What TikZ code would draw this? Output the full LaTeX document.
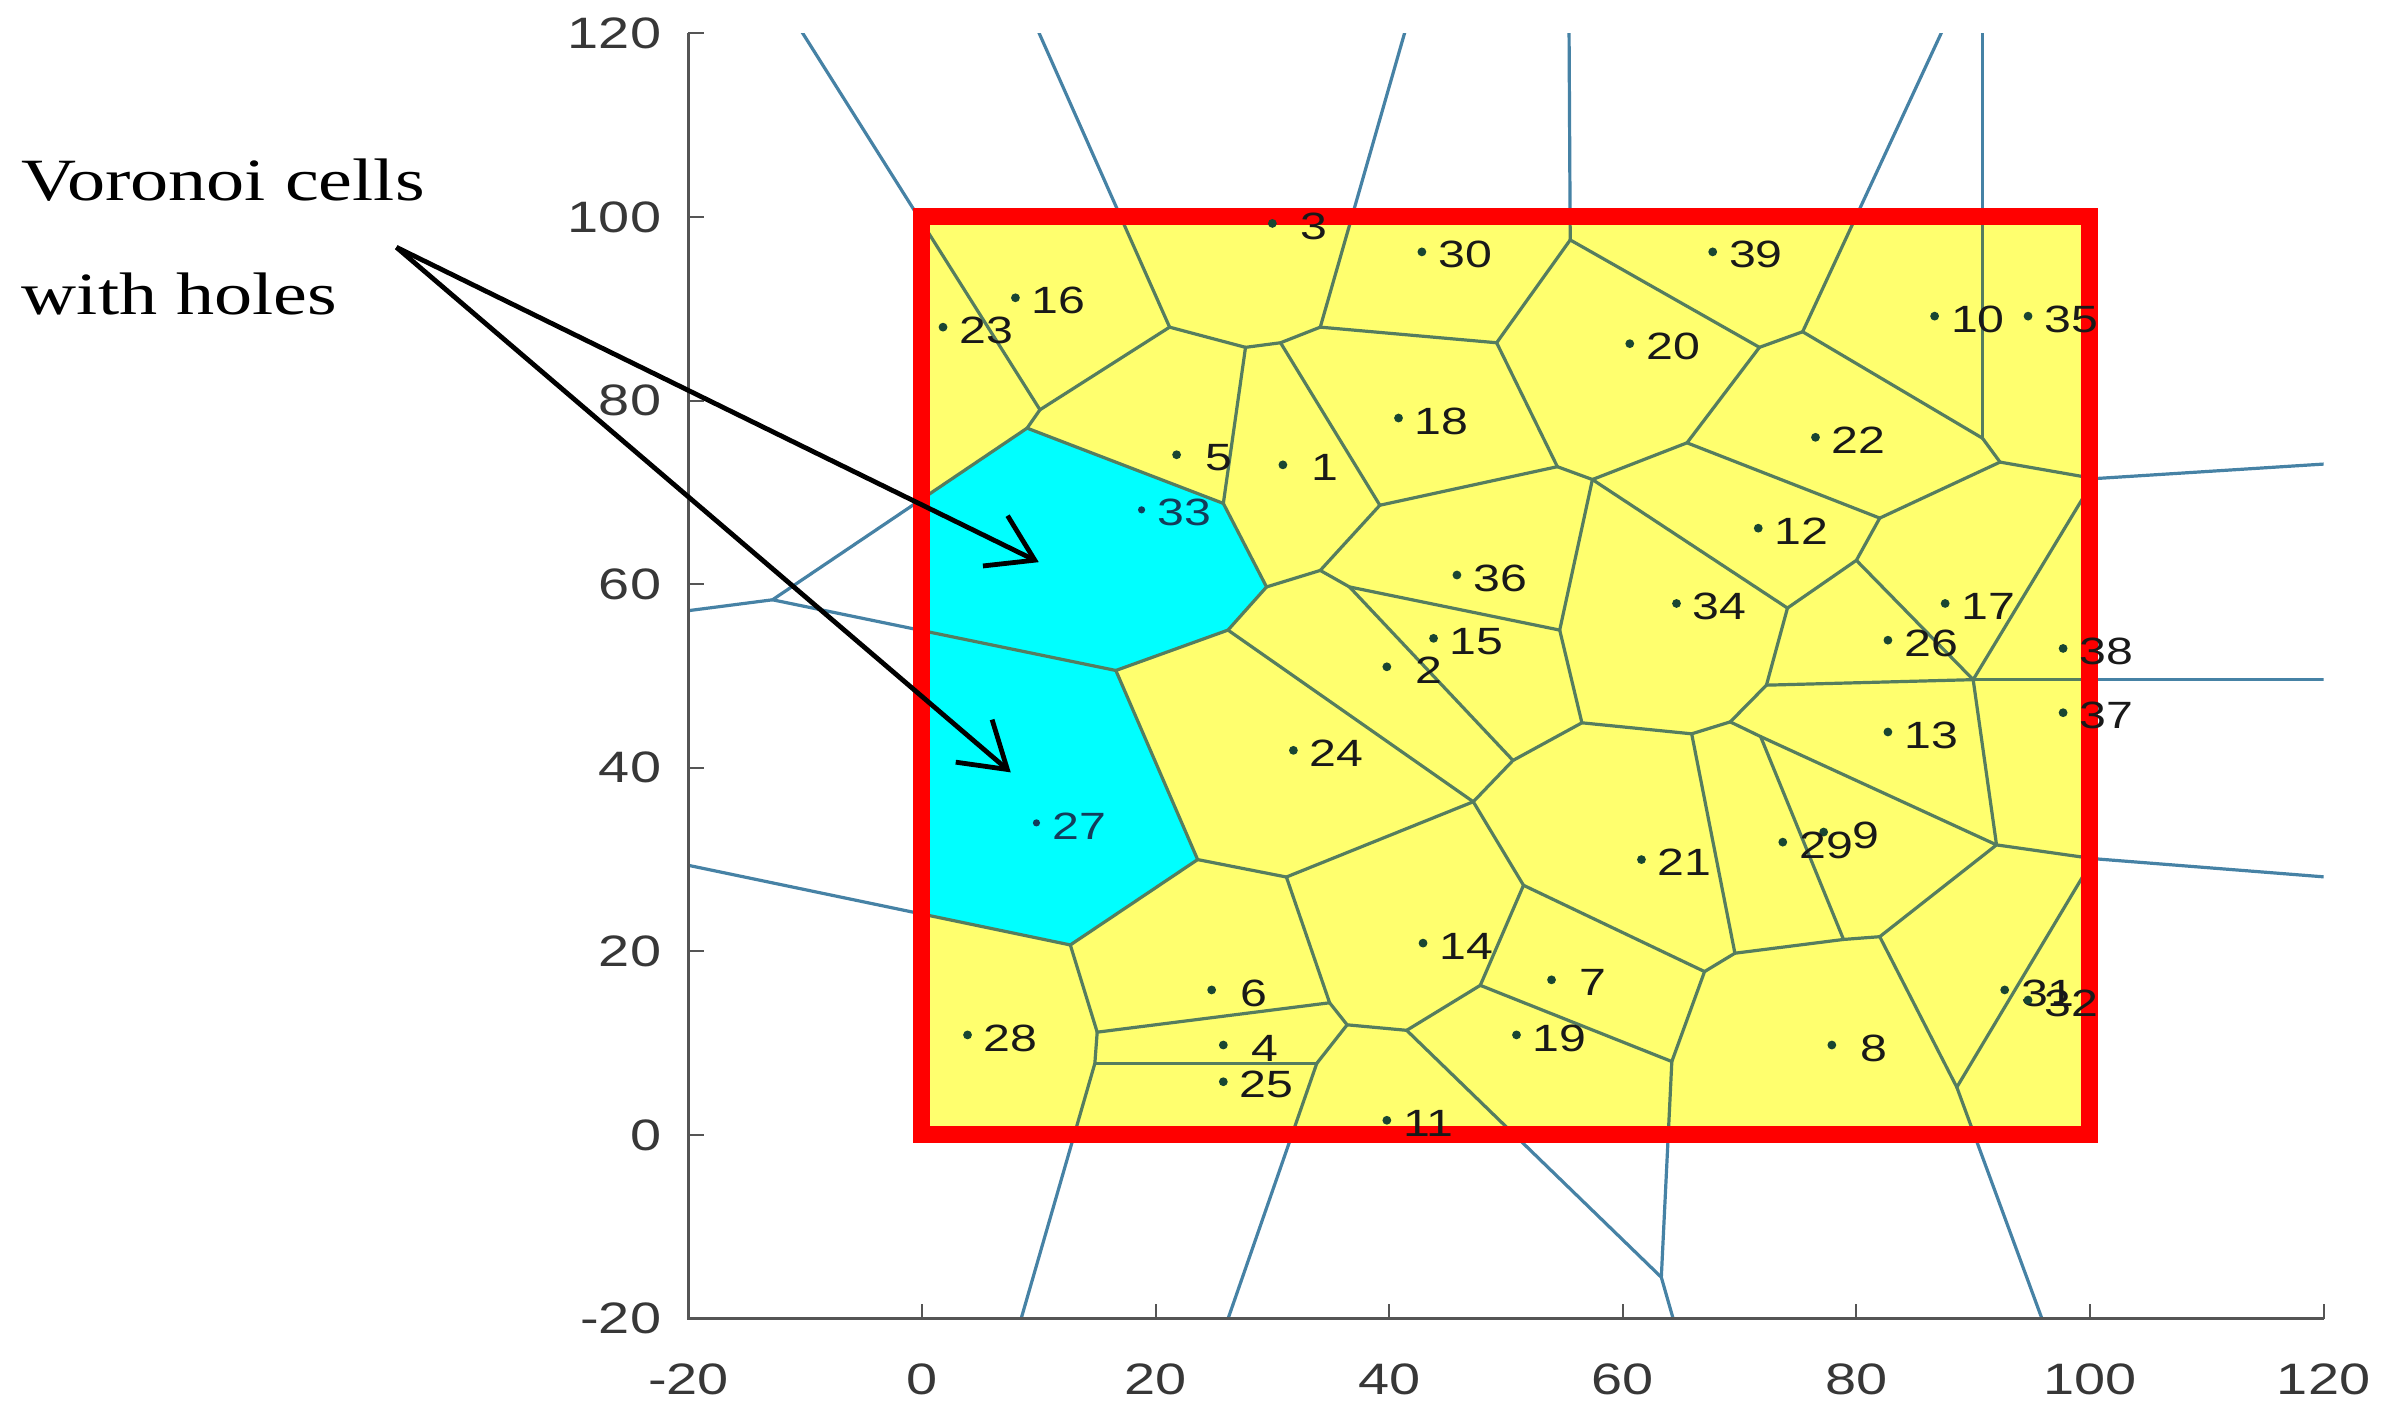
\documentclass[tikz,border=0pt]{standalone}
\usepackage{fontspec}
\setmainfont{Liberation Serif}
\setsansfont{Liberation Sans}
\usepackage{graphicx}
\usetikzlibrary{arrows.meta}
\definecolor{cellyellow}{RGB}{255,255,110}
\definecolor{cellcyan}{RGB}{0,255,255}
\definecolor{edgeout}{RGB}{70,130,165}
\definecolor{edgein}{RGB}{85,125,95}
\definecolor{boxred}{RGB}{255,0,0}
\definecolor{axisgray}{RGB}{85,85,85}
\definecolor{ticktext}{RGB}{55,55,55}
\definecolor{sitedot}{RGB}{25,70,50}
\definecolor{cyanlabel}{RGB}{20,60,90}
\newcommand{\hstretch}[1]{\scalebox{1.27}[1]{#1}}
\def\edgelist{Va/Tva, Vb/Tvb, Vi/Tvi, Vm/Tvm, Vii/Tvii, Vjj/Tvjj,
Vmm/Rmm, Vqq/Rqq, Vuu/Ruu, Vvv/Bvv, Vout2/Bout2, Vdd/Bdd, Vff/Bff,
Vhh/Lhh, Vout1/Lout1, Vout1/Vc, Vout1/Vd, Vz/Vout2, Vaa/Vout2,
Va/Vb, Va/Vc, Vb/Vh, Vh/Ve, Vh/Vh2, Vh2/Vi, Vh2/Vk, Vi/Vj, Vj/Vm, Vj/Vl,
Vk/Vl, Vk/Vq, Vq/Vf, Vq/Vr, Vr/Vp, Vr/Vs, Vl/Vn, Vn/Vp, Vn/Vo, Vn/Vpp,
Vp/Vt, Vt/Vs, Vt/Vu, Vs/Vv, Vg/Vv, Vv/Vw, Vv/Vx, Vx/Vy, Vx/Vab, Vy/Vz,
Vy/Vaa, Vaa/Vbb, Vbb/Vcc, Vcc/Vw, Vcc/Vee, Vbb/Vdd, Vdd/Vff, Vff/Vee,
Vee/Vhh, Vw/Vgg, Vc/Ve, Ve/Vf, Vf/Vg, Vg/Vd, Vd/Vgg, Vgg/Vhh,
Vm/Vkk, Vkk/Vii, Vkk/Vo, Vo/Vnn, Vii/Vjj, Vjj/Vll, Vll/Vmm, Vll/Vnn,
Vnn/Voo, Voo/Vpp, Voo/Vqq, Vmm/Vqq, Vpp/Vrr, Vrr/Vqq, Vrr/Vss, Vss/Vu,
Vss/Vyy, Vyy/Vtt, Vqq/Vtt, Vtt/Vuu, Vtt/Vww, Vuu/Vvv, Vww/Vvv, Vyy/Vzz,
Vxx/Vzz, Vzz/Vww, Vu/Vxx, Vxx/Vab, Vab/Vz}
\begin{document}
\begin{tikzpicture}[x=5.84pt,y=4.59pt,
  vedge/.style={line width=1.6pt, line cap=round, line join=round},
  dotstyle/.style={sitedot},
  sitelab/.style={anchor=west, inner sep=0pt, yshift=-1.5pt,
    font=\sffamily\fontsize{19}{22}\selectfont, text=black!90},
  sitelabone/.style={sitelab, xshift=14pt},
  sitelabtwo/.style={sitelab, xshift=8pt},
  ticklab/.style={inner sep=0pt, font=\sffamily\fontsize{22}{26}\selectfont, text=ticktext},
  calltext/.style={anchor=base west, inner sep=0pt, font=\fontsize{30}{36}\selectfont, text=black},
  callarrow/.style={line width=2.4pt, black, -{Straight Barb[length=22pt,width=28pt,line width=2.4pt]}}
]
\useasboundingbox (-78.94,-30.61) rectangle (125.09,123.64);
\fill[white] (-78.94,-30.61) rectangle (125.09,123.64);

% Voronoi vertices
\coordinate (Va) at (10.1,79.0);
\coordinate (Vb) at (21.2,88.0);
\coordinate (Vc) at (9.0,77.0);
\coordinate (Vd) at (16.6,50.6);
\coordinate (Ve) at (25.8,68.8);
\coordinate (Vf) at (29.5,59.7);
\coordinate (Vg) at (26.2,55.0);
\coordinate (Vh) at (27.7,85.8);
\coordinate (Vh2) at (30.7,86.3);
\coordinate (Vi) at (34.1,88.0);
\coordinate (Vj) at (49.2,86.3);
\coordinate (Vk) at (39.2,68.6);
\coordinate (Vl) at (54.4,72.8);
\coordinate (Vm) at (55.5,97.5);
\coordinate (Vn) at (57.4,71.4);
\coordinate (Vo) at (65.5,75.4);
\coordinate (Vp) at (54.6,55.0);
\coordinate (Vq) at (34.1,61.5);
\coordinate (Vr) at (36.6,59.7);
\coordinate (Vs) at (50.6,40.8);
\coordinate (Vt) at (56.5,44.9);
\coordinate (Vu) at (65.9,43.7);
\coordinate (Vv) at (47.2,36.3);
\coordinate (Vw) at (31.2,28.1);
\coordinate (Vx) at (51.5,27.2);
\coordinate (Vy) at (47.8,16.3);
\coordinate (Vz) at (64.2,8.0);
\coordinate (Vaa) at (41.5,11.4);
\coordinate (Vbb) at (36.4,12.0);
\coordinate (Vcc) at (34.9,14.4);
\coordinate (Vdd) at (33.8,7.8);
\coordinate (Vee) at (15.0,11.2);
\coordinate (Vff) at (14.8,7.8);
\coordinate (Vgg) at (23.6,30.0);
\coordinate (Vhh) at (12.7,20.7);
\coordinate (Vii) at (75.4,87.5);
\coordinate (Vjj) at (90.8,75.9);
\coordinate (Vkk) at (71.7,85.8);
\coordinate (Vll) at (92.3,73.3);
\coordinate (Vmm) at (100.4,71.5);
\coordinate (Vnn) at (82.0,67.2);
\coordinate (Voo) at (80.0,62.6);
\coordinate (Vpp) at (74.1,57.4);
\coordinate (Vqq) at (90.0,49.6);
\coordinate (Vrr) at (72.3,49.0);
\coordinate (Vss) at (69.2,45.0);
\coordinate (Vtt) at (92.0,31.6);
\coordinate (Vuu) at (100.3,30.1);
\coordinate (Vvv) at (88.6,5.2);
\coordinate (Vww) at (82.0,21.6);
\coordinate (Vxx) at (69.6,19.8);
\coordinate (Vyy) at (71.8,43.4);
\coordinate (Vzz) at (78.9,21.3);
\coordinate (Vab) at (67.0,17.8);
\coordinate (Vout1) at (-12.8,58.3);
\coordinate (Vout2) at (63.3,-15.5);
% far ends of unbounded edges
\coordinate (Tva) at (-10.4,120.4);
\coordinate (Tvb) at (9.9,120.4);
\coordinate (Tvi) at (41.4,120.4);
\coordinate (Tvm) at (55.4,120.4);
\coordinate (Tvii) at (87.4,120.4);
\coordinate (Tvjj) at (90.8,120.4);
\coordinate (Rmm) at (120.2,73.1);
\coordinate (Rqq) at (120.2,49.6);
\coordinate (Ruu) at (120.2,28.1);
\coordinate (Bvv) at (96.0,-20.4);
\coordinate (Bout2) at (64.4,-20.4);
\coordinate (Bdd) at (26.1,-20.4);
\coordinate (Bff) at (8.4,-20.4);
\coordinate (Lhh) at (-20.1,29.4);
\coordinate (Lout1) at (-20.1,57.1);

% edges outside the box
\begin{scope}
  \clip (-20,-20) rectangle (120,120);
  \foreach \a/\b in \edgelist {\draw[vedge, edgeout] (\a) -- (\b);}
\end{scope}

% cells inside the box
\begin{scope}
  \clip (0,0) rectangle (100,100);
  \fill[cellyellow] (0,0) rectangle (100,100);
  \fill[cellcyan] (Vc) -- (Ve) -- (Vf) -- (Vg) -- (Vd) -- (Vout1) -- cycle;
  \fill[cellcyan] (Vd) -- (Vgg) -- (Vhh) -- (Lhh) -- (Vout1) -- cycle;
  \foreach \a/\b in \edgelist {\draw[vedge, edgein] (\a) -- (\b);}
\end{scope}

% red boundary
\draw[boxred, line width=8.5pt] (0,0) rectangle (100,100);

% sites
\foreach \n/\x/\y in {1/30.9/73.0, 2/39.8/51.0, 3/30.0/99.3, 4/25.8/9.8,
  5/21.8/74.1, 6/24.8/15.8, 7/53.9/16.9, 8/77.9/9.8, 9/77.2/33.0}{
  \coordinate (s\n) at (\x,\y);
  \fill[dotstyle] (s\n) circle (2.2pt);
  \node[sitelabone] (l\n) at (s\n) {\hstretch{\n}};
}
\foreach \n/\x/\y in {10/86.7/89.2, 11/39.8/1.6, 12/71.6/66.1, 13/82.7/43.9,
  14/42.9/20.9, 15/43.8/54.1, 16/8.0/91.2, 17/87.6/57.9, 18/40.8/78.1,
  19/50.9/10.9, 20/60.6/86.2, 21/61.6/30.0, 22/76.5/76.0, 23/1.8/88.0,
  24/31.8/41.9, 25/25.8/5.8, 26/82.7/53.9, 28/3.9/10.9, 29/73.7/31.9,
  30/42.8/96.2, 31/92.7/15.8, 32/94.7/14.7, 34/64.6/57.9, 35/94.7/89.2,
  36/45.8/61.0, 37/97.7/46.0, 38/97.7/53.0, 39/67.7/96.2}{
  \coordinate (s\n) at (\x,\y);
  \fill[dotstyle] (s\n) circle (2.2pt);
  \node[sitelabtwo] (l\n) at (s\n) {\hstretch{\n}};
}
\foreach \n/\x/\y in {27/9.8/34.0, 33/18.8/68.1}{
  \coordinate (s\n) at (\x,\y);
  \fill[cyanlabel] (s\n) circle (1.8pt);
  \node[sitelabtwo, text=cyanlabel] (l\n) at (s\n) {\hstretch{\n}};
}

% axes
\coordinate (axtop) at (-20,120);
\coordinate (axorigin) at (-20,-20);
\coordinate (axright) at (120,-20);
\draw[axisgray, line width=1.4pt] (axtop) -- (axorigin) -- (axright);
\foreach \v in {-20,0,...,120}{
  \draw[axisgray, line width=1pt] (-20,\v) -- ++(1.3,0);
  \draw[axisgray, line width=1pt] (\v,-20) -- ++(0,1.6);
  \node[ticklab, anchor=east] (ylab\v) at (-22.3,\v) {\hstretch{\v}};
  \node[ticklab, anchor=center] (xlab\v) at (\v,-26.6) {\hstretch{\v}};
}

% callout
\node[calltext] (txt1) at (-77.1,101.8) {\hstretch{Voronoi cells}};
\node[calltext] (txt2) at (-77.1,89.4) {\hstretch{with holes}};
\coordinate (astart) at (-45.0,96.7);
\coordinate (tipa) at (10.0,62.4);
\coordinate (tipb) at (7.6,39.5);
\draw[callarrow] (astart) -- (tipa);
\draw[callarrow] (astart) -- (tipb);
\end{tikzpicture}
\end{document}
